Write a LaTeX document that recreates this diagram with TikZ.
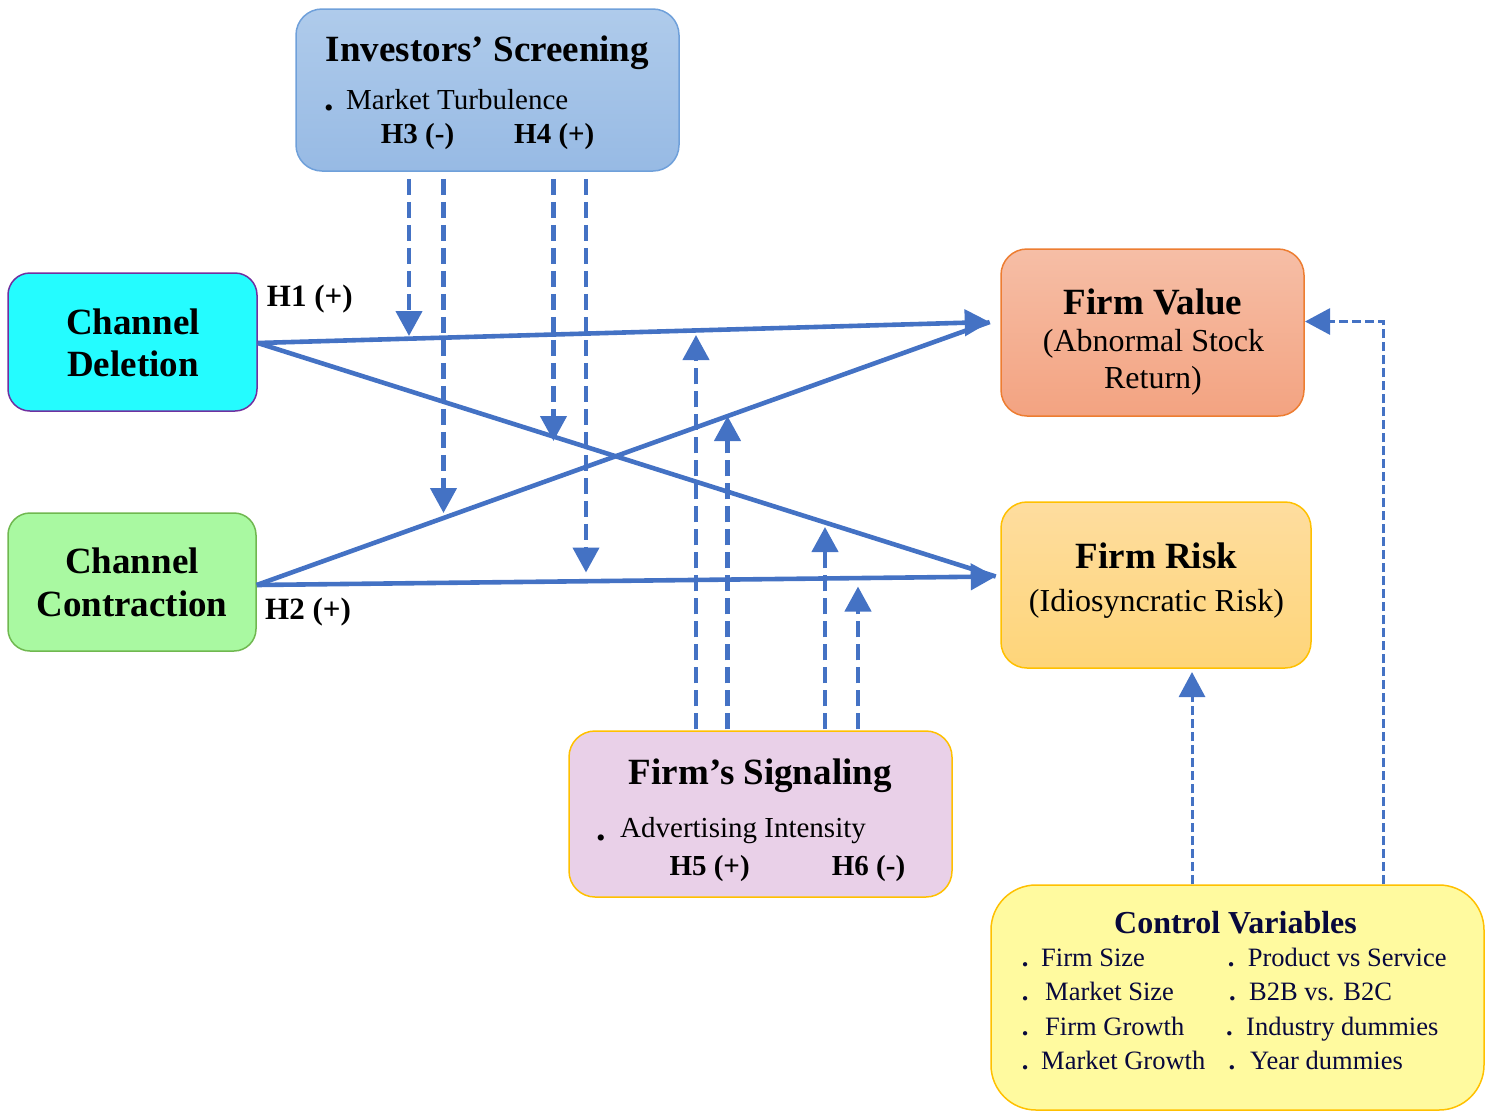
\documentclass[tikz,border=0pt]{standalone}
\usepackage{fontspec}
\setmainfont{Liberation Serif}
\usetikzlibrary{arrows.meta,calc}

\definecolor{lineblue}{HTML}{4472C4}
\definecolor{scrtop}{HTML}{AFCBEB}
\definecolor{scrbot}{HTML}{97BAE4}
\definecolor{scrbd}{HTML}{6FA0DA}
\definecolor{delfill}{HTML}{24FCFF}
\definecolor{delbd}{HTML}{7030A0}
\definecolor{confill}{HTML}{A9F9A1}
\definecolor{conbd}{HTML}{70B850}
\definecolor{valtop}{HTML}{F6BEA6}
\definecolor{valbot}{HTML}{F3A381}
\definecolor{valbd}{HTML}{ED7D31}
\definecolor{risktop}{HTML}{FEDD9F}
\definecolor{riskbot}{HTML}{FED579}
\definecolor{goldbd}{HTML}{FFC000}
\definecolor{sigfill}{HTML}{E9D0E8}
\definecolor{ctrlfill}{HTML}{FFFA9F}
\definecolor{navy}{RGB}{8,8,60}

\begin{document}
\begin{tikzpicture}[x=1pt,y=-1pt,
  box/.style={draw, line width=1.5pt, rounded corners=26pt, inner sep=0pt},
  ttl/.style={font=\fontsize{37}{44}\selectfont\bfseries, inner sep=0pt, anchor=base},
  sub/.style={font=\fontsize{32}{38}\selectfont, inner sep=0pt, anchor=base},
  item/.style={font=\fontsize{29}{34}\selectfont, inner sep=0pt, anchor=base west},
  bigdot/.style={font=\fontsize{38}{44}\selectfont\bfseries, inner sep=0pt, anchor=base west},
  hyp/.style={font=\fontsize{29}{34}\selectfont\bfseries, inner sep=0pt, anchor=base west},
  hypbig/.style={font=\fontsize{31}{36}\selectfont\bfseries, inner sep=0pt, anchor=base west},
  ctl/.style={font=\fontsize{26.5}{32}\selectfont, text=navy, inner sep=0pt, anchor=base west},
  ctldot/.style={ctl, font=\fontsize{26.5}{32}\selectfont\bfseries},
  arrowhd/.style={-{Triangle[length=25pt,width=26pt]}},
  mainline/.style={lineblue, line width=4.6pt},
  modline/.style={lineblue, line width=4.4pt, dash pattern=on 16pt off 7pt, arrowhd},
  ctrlline/.style={lineblue, line width=3pt, dash pattern=on 9pt off 4pt, arrowhd}
]
\useasboundingbox (0,0) rectangle (1492,1112);

% ---------- boxes ----------
\node[box, draw=scrbd, top color=scrtop, bottom color=scrbot,
      minimum width=383pt, minimum height=162pt] (scr) at (487.5,90) {};
\node[box, draw=delbd, fill=delfill, rounded corners=22pt,
      minimum width=249pt, minimum height=138pt] (del) at (132.5,342) {};
\node[box, draw=conbd, fill=confill, rounded corners=22pt,
      minimum width=248pt, minimum height=138pt] (con) at (132,582) {};
\node[box, draw=valbd, top color=valtop, bottom color=valbot,
      minimum width=303pt, minimum height=167pt] (val) at (1152.5,332.5) {};
\node[box, draw=goldbd, top color=risktop, bottom color=riskbot,
      minimum width=310pt, minimum height=166pt] (risk) at (1156,585) {};
\node[box, draw=goldbd, fill=sigfill,
      minimum width=383pt, minimum height=166pt] (sig) at (760.5,814) {};
\node[box, draw=goldbd, fill=ctrlfill, rounded corners=45pt,
      minimum width=493pt, minimum height=225pt] (ctrl) at (1237.5,997.5) {};

% ---------- box texts ----------
\node[ttl] (scrT) at (487.5,61.7) {Investors’ Screening};
\node[bigdot] (scrB) at (324,110) {.};
\node[item] (scrI) at (346,109) {Market Turbulence};
\node[hyp] (h3) at (380.7,143.3) {H3 (-)};
\node[hyp] (h4) at (514,143.3) {H4 (+)};

\node[ttl] (delA) at (133,334) {Channel};
\node[ttl] (delB) at (133,376.7) {Deletion};
\node[ttl] (conA) at (132,573.3) {Channel};
\node[ttl] (conB) at (132,616.7) {Contraction};

\node[ttl] (valA) at (1153,314) {Firm Value};
\node[sub] (valB) at (1153.5,351.7) {(Abnormal Stock};
\node[sub] (valC) at (1153,388.3) {Return)};

\node[ttl] (riskA) at (1156.5,568.3) {Firm Risk};
\node[sub] (riskB) at (1156.5,611.7) {(Idiosyncratic Risk)};

\node[ttl] (sigT) at (760.3,784.3) {Firm’s Signaling};
\node[bigdot] (sigB) at (596.5,840) {.};
\node[item] (sigI) at (620,837.7) {Advertising Intensity};
\node[hyp] (h5) at (669.3,875) {H5 (+)};
\node[hyp] (h6) at (831.7,875) {H6 (-)};

\node[ttl, font=\fontsize{32}{38}\selectfont\bfseries, text=navy] (ctrlT) at (1235.5,933.3) {Control Variables};
\node[ctldot] (cb1) at (1021.7,966) {.};
\node[ctl] (ci1) at (1041,966) {Firm Size};
\node[ctldot] (cb2) at (1021.7,1000.7) {.};
\node[ctl] (ci2) at (1045,1000.7) {Market Size};
\node[ctldot] (cb3) at (1021.7,1035) {.};
\node[ctl] (ci3) at (1045,1035) {Firm Growth};
\node[ctldot] (cb4) at (1021.7,1069.3) {.};
\node[ctl] (ci4) at (1041,1069.3) {Market Growth};
\node[ctldot] (cb5) at (1227.7,966) {.};
\node[ctl] (ci5) at (1247.7,966) {Product vs Service};
\node[ctldot] (cb6) at (1229,1000.7) {.};
\node[ctl] (ci6) at (1249,1000.7) {B2B vs. B2C};
\node[ctldot] (cb7) at (1226,1035) {.};
\node[ctl] (ci7) at (1246,1035) {Industry dummies};
\node[ctldot] (cb8) at (1228.4,1069.3) {.};
\node[ctl] (ci8) at (1250,1069.3) {Year dummies};

% hypothesis labels of the main paths
\node[hypbig] (h1) at (266.7,306.7) {H1 (+)};
\node[hypbig] (h2) at (265,619.3) {H2 (+)};

% ---------- main paths ----------
\coordinate (delOut) at ($(del.east)+(0,1)$);
\coordinate (conOut) at ($(con.east)+(0,3)$);
\coordinate (valIn) at ($(val.west)+(-10.5,-10.5)$);
\coordinate (riskIn) at ($(risk.west)+(-4.5,-8.5)$);

\draw[mainline] (delOut) -- (riskIn);
\draw[mainline] (conOut) -- (valIn);
\draw[mainline, arrowhd] (delOut) -- (valIn);
\draw[mainline, arrowhd] (conOut) -- (riskIn);

% ---------- moderation by investors' screening ----------
\coordinate (m1) at (409,336);
\coordinate (m2) at (443.5,513);
\coordinate (m3) at (553.5,441);
\coordinate (m4) at (586,572.5);
\foreach \m in {m1,m2,m3,m4}
  \draw[modline] ($(scr.south -| \m)+(0,7)$) -- (\m);

% ---------- moderation by firm's signaling ----------
\coordinate (s1) at (696,335);
\coordinate (s2) at (727.5,416);
\coordinate (s3) at (825,527);
\coordinate (s4) at (858,586.5);
\foreach \s in {s1,s2,s3,s4}
  \draw[modline] ($(sig.north -| \s)+(0,-1)$) -- (\s);

% ---------- control variables ----------
\coordinate (c1) at (1192,672);
\coordinate (c2) at (1305,321.5);
\draw[ctrlline] (ctrl.north -| c1) -- (c1);
\draw[ctrlline] ($(ctrl.north)+(145.5,0)$) |- (c2);

\end{tikzpicture}
\end{document}
